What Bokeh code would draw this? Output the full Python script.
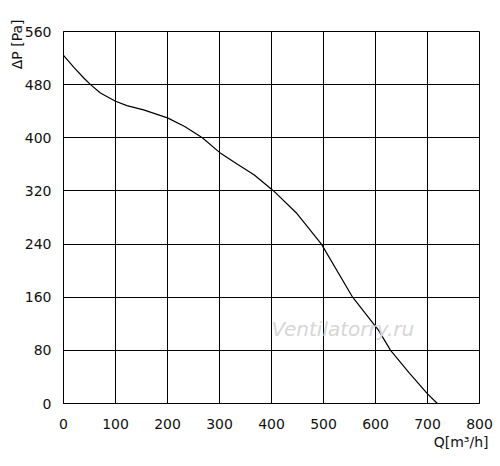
from bokeh.plotting import figure
from bokeh.models import Range1d, FixedTicker, Label, Title
from bokeh.embed import file_html
from bokeh.resources import INLINE

# Fan curve values
flow_q = [0, 20, 39, 52, 71, 100, 122, 154, 200, 233, 267, 300, 333, 367, 404, 449, 496, 556, 606, 629, 664, 700, 719]
pressure_p = [524, 506, 490, 480, 467.5, 455, 448.5, 442, 430, 417, 400, 378, 361, 344, 320, 286, 240, 160, 110, 80, 47, 14.5, 0]

x_ticks = [0, 100, 200, 300, 400, 500, 600, 700, 800]
y_ticks = [0, 80, 160, 240, 320, 400, 480, 560]

FONT = "DejaVu Sans"

p = figure(width=496, height=458, output_backend="svg", toolbar_location=None,
           x_range=Range1d(0, 800), y_range=Range1d(0, 560),
           min_border_left=63, min_border_right=17, min_border_top=31, min_border_bottom=55)

p.line(flow_q, pressure_p, line_color="black", line_width=1.2)

for ax in (p.xaxis[0], p.yaxis[0]):
    ax.major_tick_line_color = None
    ax.minor_tick_line_color = None
    ax.axis_line_color = "black"
    ax.major_label_text_font = FONT
    ax.major_label_text_font_size = "14px"
    ax.major_label_text_color = "#111111"
p.xaxis[0].ticker = FixedTicker(ticks=x_ticks)
p.yaxis[0].ticker = FixedTicker(ticks=y_ticks)
p.xaxis[0].major_label_standoff = 9
p.yaxis[0].major_label_standoff = 6

p.xgrid[0].ticker = FixedTicker(ticks=x_ticks)
p.ygrid[0].ticker = FixedTicker(ticks=y_ticks)
for g in (p.xgrid[0], p.ygrid[0]):
    g.grid_line_color = "black"
    g.grid_line_alpha = 1.0
    g.grid_line_width = 1

p.outline_line_color = "black"
p.outline_line_alpha = 1.0
p.background_fill_color = "white"
p.border_fill_color = "white"

p.add_layout(Title(text="ΔP [Pa]", align="right", offset=-12, standoff=-6,
                   text_font=FONT, text_font_size="14px", text_font_style="normal",
                   text_color="#111111"), "left")
p.add_layout(Title(text="Q[m³/h]", align="right", offset=-9, standoff=0,
                   text_font=FONT, text_font_size="14px", text_font_style="normal",
                   text_color="#111111"), "below")
p.add_layout(Label(x=400, y=112, text="Ventilatorry.ru",
                   text_align="left", text_baseline="middle",
                   text_font="DejaVu Sans", text_font_style="italic",
                   text_font_size="20px", text_color="#d6d6d6"))

open("out.html", "w").write(file_html(p, INLINE))
